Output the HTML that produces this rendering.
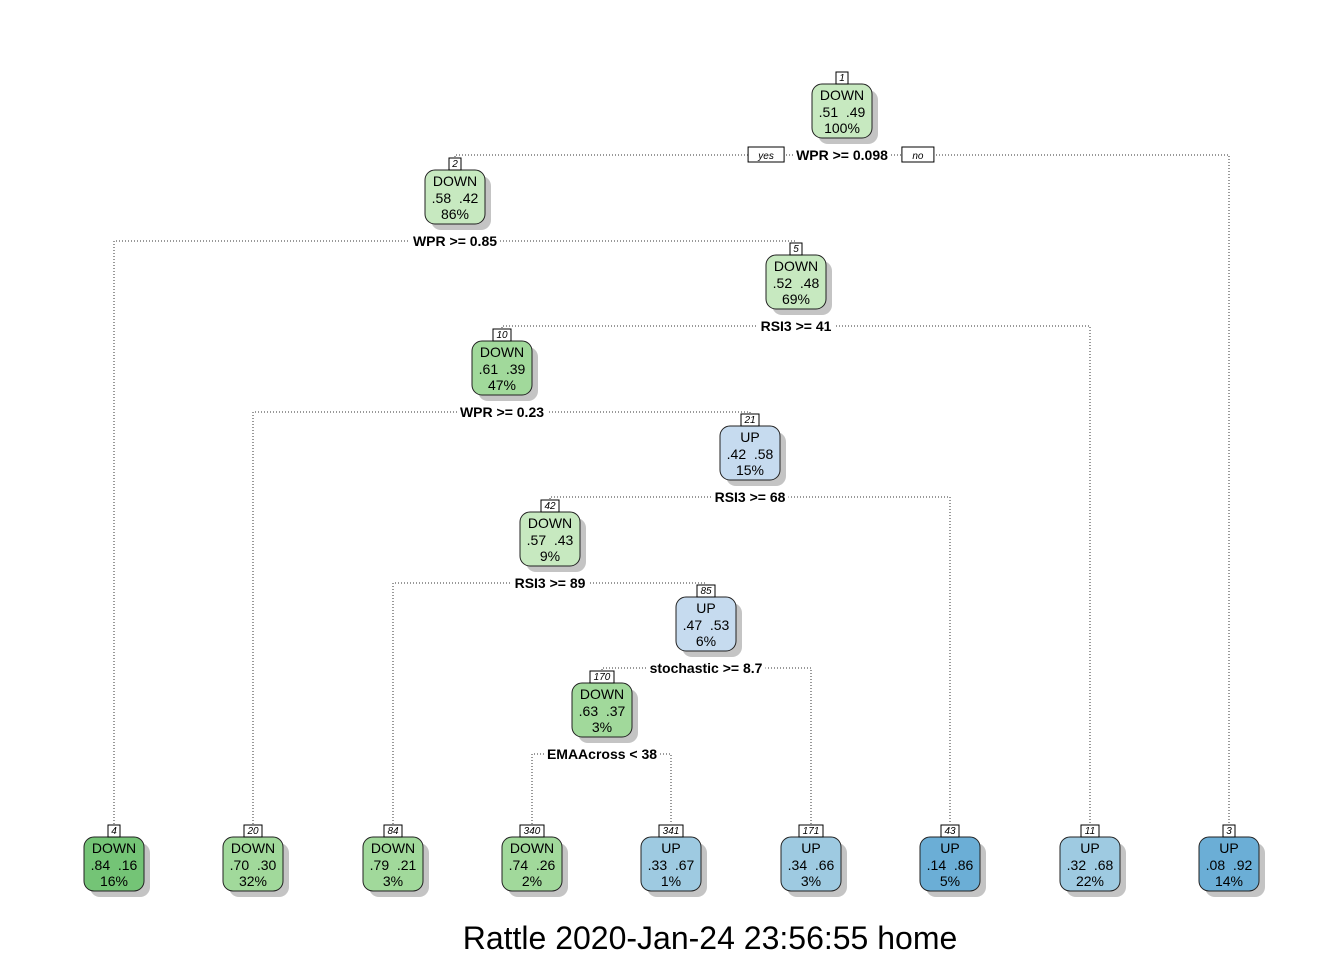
<!DOCTYPE html>
<html><head><meta charset="utf-8"><style>
body{margin:0;background:#fff;}
svg{display:block;font-family:"Liberation Sans",Arial,sans-serif;}
</style></head><body>
<svg id="tree" width="1344" height="960" viewBox="0 0 1344 960">
<text x="710" y="949" font-size="32" text-anchor="middle">Rattle 2020-Jan-24 23:56:55 home</text>
</svg>
<script>
const nodeIds   = [1,2,3,4,5,10,11,20,21,42,43,84,85,170,171,340,341];
const nodeClass = ["DOWN","DOWN","UP","DOWN","DOWN","DOWN","UP","DOWN","UP","DOWN","UP","DOWN","UP","DOWN","UP","DOWN","UP"];
const probDown  = [".51",".58",".08",".84",".52",".61",".32",".70",".42",".57",".14",".79",".47",".63",".34",".74",".33"];
const probUp    = [".49",".42",".92",".16",".48",".39",".68",".30",".58",".43",".86",".21",".53",".37",".66",".26",".67"];
const nodePct   = ["100%","86%","14%","16%","69%","47%","22%","32%","15%","9%","5%","3%","6%","3%","3%","2%","1%"];
const nodeX     = [842,455,1229,114,796,502,1090,253,750,550,950,393,706,602,811,532,671];
const nodeTop   = [84,170,837,837,255,341,837,837,426,512,837,837,597,683,837,837,837];
const fills     = ["#c7e9c0","#c7e9c0","#6baed6","#74c476","#c7e9c0","#a1d99b","#9ecae1","#a1d99b","#c6dbef","#c7e9c0","#6baed6","#a1d99b","#c6dbef","#a1d99b","#9ecae1","#a1d99b","#9ecae1"];
const splitNode = [1,2,5,10,21,42,85,170];
const splitText = ["WPR >= 0.098","WPR >= 0.85","RSI3 >= 41","WPR >= 0.23","RSI3 >= 68","RSI3 >= 89","stochastic >= 8.7","EMAAcross < 38"];

const svg=document.getElementById('tree');
const NS='http://www.w3.org/2000/svg';
function mk(tag,attrs,parent){const e=document.createElementNS(NS,tag);for(const k in attrs)e.setAttribute(k,attrs[k]);(parent||svg).appendChild(e);return e;}
function idx(id){return nodeIds.indexOf(id);}

splitNode.forEach((id,s)=>{
  const i=idx(id), L=idx(id*2), R=idx(id*2+1);
  const y=nodeTop[i]+71;
  const g=mk('g',{});
  
  
  mk('path',{d:`M${nodeX[L]},${nodeTop[L]-13}V${y}H${nodeX[R]}V${nodeTop[R]-13}`,fill:'none',stroke:'#333','stroke-width':1,'stroke-dasharray':'1,2'},g);
  const t=mk('text',{x:nodeX[i],y:y+5,'font-size':14,'font-weight':'bold','text-anchor':'middle'},g);
  t.textContent=splitText[s];
  const w=t.getComputedTextLength?t.getComputedTextLength():splitText[s].length*8;
  const bg=mk('rect',{x:nodeX[i]-w/2-3,y:y-7,width:w+6,height:14,fill:'#fff'},g);
  g.insertBefore(bg,t);
  if(id===1){
    [['yes',nodeX[i]-w/2-30],['no',nodeX[i]+w/2+30]].forEach(([lab,cx])=>{
      const bw=lab==='yes'?36:32;
      mk('rect',{x:cx-bw/2,y:y-8,width:bw,height:15,fill:'#fff',stroke:'#000','stroke-width':1},g);
      const tt=mk('text',{x:cx,y:y+4,'font-size':10,'font-style':'italic','text-anchor':'middle'},g);
      tt.textContent=lab;
    });
  }
});

nodeIds.forEach((id,i)=>{
  const x=nodeX[i]-30, y=nodeTop[i];
  const g=mk('g',{});
  
  
  mk('rect',{x:x+6,y:y+6,width:60,height:54,rx:10,fill:'#c4c4c4'},g);
  mk('rect',{x:x,y:y,width:60,height:54,rx:10,fill:fills[i],stroke:'#222','stroke-width':1},g);
  const s=String(id), lw=s.length*6+6;
  mk('rect',{x:nodeX[i]-lw/2,y:y-12,width:lw,height:12,fill:'#fff',stroke:'#000','stroke-width':1},g);
  const nt=mk('text',{x:nodeX[i],y:y-3,'font-size':10,'font-style':'italic','text-anchor':'middle'},g);nt.textContent=s;
  const a=mk('text',{x:nodeX[i],y:y+16,'font-size':14,'text-anchor':'middle'},g);a.textContent=nodeClass[i];
  const b=mk('text',{x:nodeX[i],y:y+33,'font-size':14,'text-anchor':'middle'},g);b.textContent=probDown[i]+'\u00a0\u00a0'+probUp[i];
  const c=mk('text',{x:nodeX[i],y:y+49,'font-size':14,'text-anchor':'middle'},g);c.textContent=nodePct[i];
});
</script>
</body></html>
